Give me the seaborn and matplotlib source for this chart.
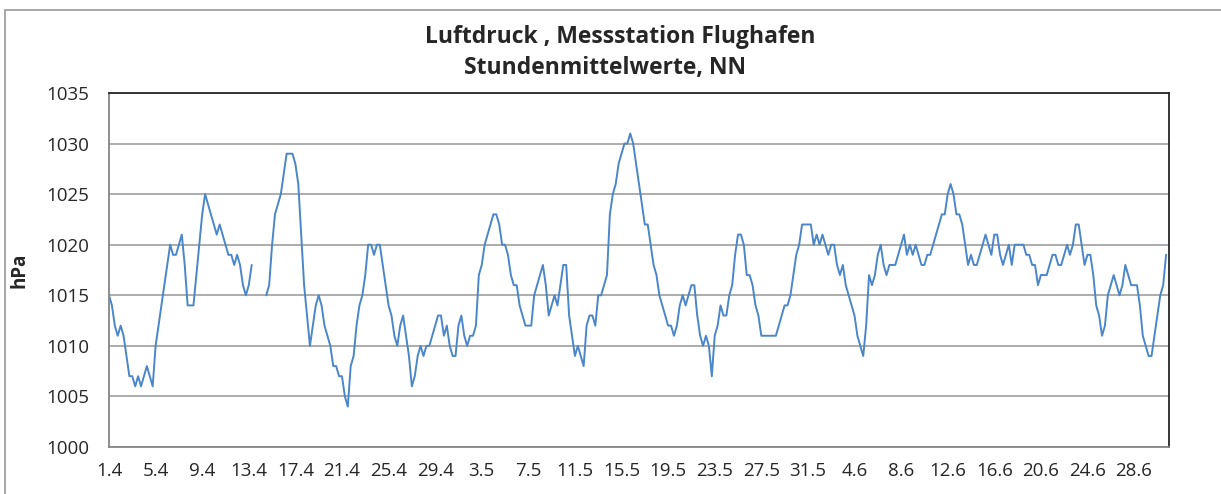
import numpy as np
import pandas as pd
import matplotlib.pyplot as plt
import seaborn as sns
from matplotlib.patches import Rectangle

# Luftdruck (hPa), alle 6 Stunden, ab 1.4. 00 Uhr
nan = np.nan
april = [
    1015, 1014, 1012, 1011, 1012, 1011, 1009, 1007,
    1007, 1006, 1007, 1006, 1007, 1008, 1007, 1006,
    1010, 1012, 1014, 1016, 1018, 1020, 1019, 1019,
    1020, 1021, 1018, 1014, 1014, 1014, 1017, 1020,
    1023, 1025, 1024, 1023, 1022, 1021, 1022, 1021,
    1020, 1019, 1019, 1018, 1019, 1018, 1016, 1015,
    1016, 1018, nan, nan, nan, nan, 1015, 1016,
    1020, 1023, 1024, 1025, 1027, 1029, 1029, 1029,
    1028, 1026, 1021, 1016, 1013, 1010, 1012, 1014,
    1015, 1014, 1012, 1011, 1010, 1008, 1008, 1007,
    1007, 1005, 1004, 1008, 1009, 1012, 1014, 1015,
    1017, 1020, 1020, 1019, 1020, 1020, 1018, 1016,
    1014, 1013, 1011, 1010, 1012, 1013, 1011, 1009,
    1006, 1007, 1009, 1010, 1009, 1010, 1010, 1011,
    1012, 1013, 1013, 1011, 1012, 1010, 1009, 1009,
]
mai = [
    1012, 1013, 1011, 1010, 1011, 1011, 1012, 1017,
    1018, 1020, 1021, 1022, 1023, 1023, 1022, 1020,
    1020, 1019, 1017, 1016, 1016, 1014, 1013, 1012,
    1012, 1012, 1015, 1016, 1017, 1018, 1016, 1013,
    1014, 1015, 1014, 1016, 1018, 1018, 1013, 1011,
    1009, 1010, 1009, 1008, 1012, 1013, 1013, 1012,
    1015, 1015, 1016, 1017, 1023, 1025, 1026, 1028,
    1029, 1030, 1030, 1031, 1030, 1028, 1026, 1024,
    1022, 1022, 1020, 1018, 1017, 1015, 1014, 1013,
    1012, 1012, 1011, 1012, 1014, 1015, 1014, 1015,
    1016, 1016, 1013, 1011, 1010, 1011, 1010, 1007,
    1011, 1012, 1014, 1013, 1013, 1015, 1016, 1019,
    1021, 1021, 1020, 1017, 1017, 1016, 1014, 1013,
    1011, 1011, 1011, 1011, 1011, 1011, 1012, 1013,
    1014, 1014, 1015, 1017, 1019, 1020, 1022, 1022,
    1022, 1022, 1020, 1021,
]
juni = [
    1020, 1021, 1020, 1019, 1020, 1020, 1018, 1017,
    1018, 1016, 1015, 1014, 1013, 1011, 1010, 1009,
    1012, 1017, 1016, 1017, 1019, 1020, 1018, 1017,
    1018, 1018, 1018, 1019, 1020, 1021, 1019, 1020,
    1019, 1020, 1019, 1018, 1018, 1019, 1019, 1020,
    1021, 1022, 1023, 1023, 1025, 1026, 1025, 1023,
    1023, 1022, 1020, 1018, 1019, 1018, 1018, 1019,
    1020, 1021, 1020, 1019, 1021, 1021, 1019, 1018,
    1019, 1020, 1018, 1020, 1020, 1020, 1020, 1019,
    1019, 1018, 1018, 1016, 1017, 1017, 1017, 1018,
    1019, 1019, 1018, 1018, 1019, 1020, 1019, 1020,
    1022, 1022, 1020, 1018, 1019, 1019, 1017, 1014,
    1013, 1011, 1012, 1015, 1016, 1017, 1016, 1015,
    1016, 1018, 1017, 1016, 1016, 1016, 1014, 1011,
    1010, 1009, 1009, 1011, 1013, 1015, 1016, 1019,
]

tick_labels = ["1.4", "5.4", "9.4", "13.4", "17.4", "21.4", "25.4", "29.4",
               "3.5", "7.5", "11.5", "15.5", "19.5", "23.5", "27.5", "31.5",
               "4.6", "8.6", "12.6", "16.6", "20.6", "24.6", "28.6"]

werte = april + mai + juni
df = pd.DataFrame({"tag": np.arange(len(werte)) / 4, "hPa": werte})
# Messluecke -> eigenes Liniensegment
df["segment"] = df["hPa"].isna().cumsum()
df = df.dropna()

#%% Grafik
sns.set_style("white")
plt.rcParams["font.family"] = ["Open Sans", "DejaVu Sans"]

W, H = 1221, 494
fig = plt.figure(figsize=(W / 100, H / 100), dpi=100)
ax = fig.add_axes([109 / W, 47 / H, 1060 / W, 354 / H])

sns.lineplot(data=df, x="tag", y="hPa", units="segment", estimator=None,
             color="#4A86C8", linewidth=1.4, ax=ax)

ax.set_xlim(0, 91)
ax.set_ylim(1000, 1035)
ax.set_yticks(range(1000, 1036, 5))
ax.set_xticks(np.arange(0, 89, 4))
ax.set_xticklabels(tick_labels)
ax.yaxis.grid(True, color="#a6a6a6", linewidth=1.3)
ax.set_axisbelow(True)
ax.set_xlabel("")
ax.set_ylabel("")
ax.tick_params(axis="x", length=4, width=1, color="#868686", labelsize=13.5,
               labelcolor="#262626", pad=7)
ax.tick_params(axis="y", length=0, labelsize=13.5, labelcolor="#262626", pad=14)

for s in ["left", "bottom"]:
    ax.spines[s].set_color("#868686")
    ax.spines[s].set_linewidth(1.3)
for s in ["top", "right"]:
    ax.spines[s].set_color("#262626")
    ax.spines[s].set_linewidth(1.3)

fig.text(620 / W, 1 - 37 / H, "Luftdruck , Messstation Flughafen", ha="center",
         va="center", fontsize=16.5, fontweight="bold", color="#262626")
fig.text(605 / W, 1 - 68 / H, "Stundenmittelwerte, NN", ha="center",
         va="center", fontsize=16.5, fontweight="bold", color="#262626")
fig.text(20 / W, 1 - 270 / H, "hPa", rotation=90, ha="center", va="center",
         fontsize=13.5, fontweight="bold", color="#262626")

# Rahmen des Diagrammbereichs
fig.patches.append(Rectangle((5 / W, -0.1), 1.2, (H - 10) / H + 0.1,
                             transform=fig.transFigure, fill=False,
                             edgecolor="#a0a0a0", linewidth=1.3))

fig.savefig("out.png", dpi=100)
